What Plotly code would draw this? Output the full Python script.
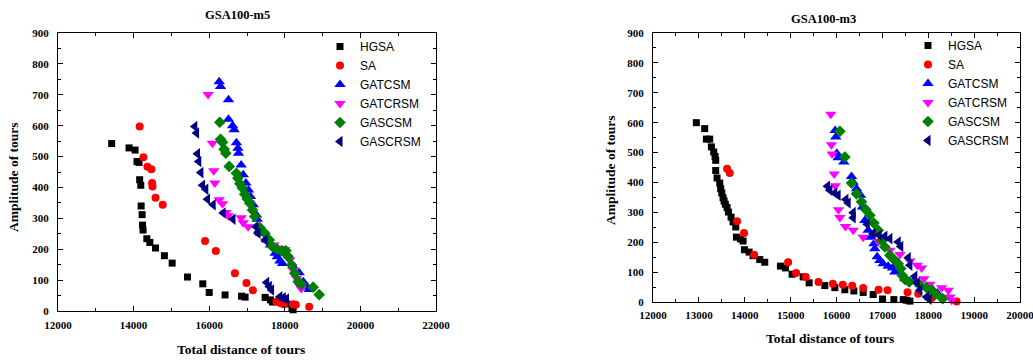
import plotly.graph_objects as go

# ---------------- Data: GSA100-m5 (left) ----------------
m5_hgsa_x = [13420, 13880, 14040, 14090, 14145, 14160, 14190, 14200, 14225, 14235, 14250, 14350, 14430, 14580,
             14815, 15020, 15425, 15830, 16000, 16420, 16855, 16950, 17480, 17620, 17675, 18045, 18190, 18220]
m5_hgsa_y = [542, 528, 521, 484, 481, 425, 407, 340, 312, 278, 262, 234, 222, 204,
             179, 155, 110, 88, 60, 52, 48, 45, 44, 36, 29, 23, 9, 4]

m5_sa_x = [14160, 14260, 14365, 14470, 14490, 14500, 14580, 14770, 15890, 16175, 16680, 16985, 17155,
           17780, 17895, 17975, 18215, 18290, 18645]
m5_sa_y = [597, 498, 467, 459, 414, 403, 367, 344, 227, 194, 122, 91, 67,
           30, 25, 22, 22, 20, 14]

m5_gatcsm_x = [16265, 16300, 16510, 16510, 16620, 16660, 16720, 16760, 16775, 16845, 16900, 16970, 17040,
               17090, 17165, 17250, 17270, 17320, 17360, 17515, 17620, 17745, 17800, 17870, 17940, 18045,
               18220, 18380, 18490, 18590, 18645]
m5_gatcsm_y = [742, 727, 684, 621, 600, 587, 545, 527, 511, 473, 441, 414, 392,
               371, 344, 311, 297, 262, 252, 230, 214, 187, 176, 162, 154, 187,
               144, 124, 95, 77, 70]

m5_gatcrsm_x = [15970, 16085, 16120, 16150, 16265, 16350, 16440, 16500, 16845, 16900, 17030, 17710, 17870,
                18000, 18130, 18220, 18310, 18400, 18435]
m5_gatcrsm_y = [701, 543, 454, 414, 360, 347, 319, 308, 302, 286, 273, 214, 203,
                198, 165, 133, 106, 79, 73]

m5_gascsm_x = [16280, 16300, 16350, 16395, 16440, 16530, 16720, 16760, 16810, 16880, 16940, 17005, 17075,
               17145, 17205, 17340, 17470, 17590, 17675, 17795, 17915, 18030, 18090, 18180, 18265, 18355,
               18440, 18750, 18910]
m5_gascsm_y = [611, 556, 546, 524, 511, 468, 446, 430, 412, 398, 378, 363, 349,
               327, 306, 270, 252, 230, 208, 200, 195, 195, 176, 149, 122, 95,
               87, 77, 53]

m5_gascrsm_x = [15620, 15665, 15690, 15725, 15780, 15825, 15910, 15955, 16105, 16370, 16630, 17235, 17290,
                17480, 17520, 17590, 17650, 17870, 17960, 18045]
m5_gascrsm_y = [597, 576, 509, 484, 448, 407, 394, 362, 344, 317, 297, 273, 252,
                230, 92, 79, 68, 46, 43, 39]

# ---------------- Data: GSA100-m3 (right) ----------------
m3_hgsa_x = [12945, 13127, 13164, 13236, 13273, 13324, 13353, 13367, 13367, 13396, 13455, 13476, 13500,
             13527, 13549, 13578, 13615, 13644, 13702, 13745, 13804, 13818, 13905, 13964, 13993, 14095,
             14182, 14327, 14436, 14778, 14887, 15033, 15273, 15404, 15745, 15964, 16182, 16378, 16582,
             16800, 17004, 17251, 17455, 17527, 17600]
m3_hgsa_y = [600, 580, 545, 545, 519, 502, 487, 474, 440, 415, 398, 379, 365,
             349, 338, 327, 316, 301, 284, 268, 251, 217, 211, 204, 175, 167,
             155, 142, 133, 120, 114, 93, 84, 64, 55, 48, 41, 37, 32,
             25, 10, 8, 8, 6, 3]

m3_sa_x = [13615, 13673, 13833, 13985, 14204, 14945, 15120, 15331, 15607, 15920, 16138, 16342, 16582,
           16916, 17113, 17549, 17782, 18073, 18618]
m3_sa_y = [446, 432, 270, 231, 158, 133, 97, 84, 67, 61, 58, 54, 47,
           41, 39, 33, 28, 13, 2]

m3_gatcsm_x = [15971, 15985, 16007, 16036, 16160, 16327, 16364, 16436, 16524, 16567, 16618, 16691, 16742,
               16815, 16836, 16887, 16945, 17018, 17127, 17222, 17273, 17491, 17658, 17818, 17963, 18109,
               18196]
m3_gatcsm_y = [574, 552, 498, 483, 468, 420, 401, 379, 357, 318, 273, 240, 217,
               195, 178, 151, 139, 128, 120, 114, 100, 78, 67, 59, 50, 39,
               30]

m3_gatcrsm_x = [15876, 15890, 15905, 15949, 15971, 16044, 16073, 16196, 16364, 16582, 16909, 17164, 17382,
                17600, 17760, 17855, 17905, 18036, 18291, 18436, 18473, 18509]
m3_gatcrsm_y = [628, 526, 495, 428, 389, 309, 283, 253, 240, 217, 202, 173, 159,
                137, 123, 114, 78, 59, 48, 39, 17, 6]

m3_gascsm_x = [16073, 16182, 16327, 16436, 16545, 16640, 16727, 16815, 16909, 16982, 17055, 17164, 17273,
               17345, 17400, 17433, 17491, 17585, 17818, 17963, 18073, 18160, 18313]
m3_gascsm_y = [571, 485, 398, 362, 335, 309, 290, 264, 240, 206, 184, 156, 139,
               128, 112, 89, 76, 67, 56, 48, 39, 26, 11]

m3_gascrsm_x = [15804, 15855, 15964, 16036, 16204, 16255, 16364, 16364, 16669, 16800, 16931, 17055, 17164,
                17345, 17400, 17564, 17600, 17709, 17760, 17818, 17964, 18018]
m3_gascrsm_y = [387, 374, 365, 357, 343, 331, 299, 282, 260, 229, 223, 220, 212,
                201, 186, 148, 123, 86, 64, 39, 17, 9]

series_names = ["HGSA", "SA", "GATCSM", "GATCRSM", "GASCSM", "GASCRSM"]
colors = ["#000000", "#FF0000", "#0000FF", "#FF00FF", "#008000", "#000080"]
symbols = ["square", "circle", "triangle-up", "triangle-down", "diamond", "triangle-left"]
sizes = [7, 8, 10, 10, 9, 10]

left_data = [(m5_hgsa_x, m5_hgsa_y), (m5_sa_x, m5_sa_y), (m5_gatcsm_x, m5_gatcsm_y),
             (m5_gatcrsm_x, m5_gatcrsm_y), (m5_gascsm_x, m5_gascsm_y), (m5_gascrsm_x, m5_gascrsm_y)]
right_data = [(m3_hgsa_x, m3_hgsa_y), (m3_sa_x, m3_sa_y), (m3_gatcsm_x, m3_gatcsm_y),
              (m3_gatcrsm_x, m3_gatcrsm_y), (m3_gascsm_x, m3_gascsm_y), (m3_gascrsm_x, m3_gascrsm_y)]

fig = go.Figure()
for i, (xs, ys) in enumerate(left_data):
    fig.add_trace(go.Scatter(x=xs, y=ys, mode="markers", name=series_names[i],
                             marker=dict(symbol=symbols[i], color=colors[i], size=sizes[i], line=dict(width=0)),
                             xaxis="x", yaxis="y", legend="legend", cliponaxis=False))
for i, (xs, ys) in enumerate(right_data):
    fig.add_trace(go.Scatter(x=xs, y=ys, mode="markers", name=series_names[i],
                             marker=dict(symbol=symbols[i], color=colors[i], size=sizes[i], line=dict(width=0)),
                             xaxis="x2", yaxis="y2", legend="legend2", cliponaxis=False))

W, H = 1033, 360
tickfont = dict(family="Liberation Serif", size=11, color="black", weight="bold")
titlefont = dict(family="Liberation Serif", size=13.5, color="black", weight="bold")
headfont = dict(family="Liberation Serif", size=12.5, color="black", weight="bold")

def ax(domain, rng, dtick, minor_dtick, anchor, standoff):
    return dict(domain=domain, range=rng, dtick=dtick, tick0=rng[0], tickformat="d",
                showgrid=False, zeroline=False, automargin=False, ticklabeloverflow="allow",
                ticklabelstandoff=standoff,
                showline=True, linecolor="black", linewidth=1, mirror="allticks",
                ticks="inside", ticklen=5, tickwidth=1, tickcolor="black", tickfont=tickfont,
                minor=dict(ticks="inside", ticklen=3, dtick=minor_dtick, tickcolor="black", showgrid=False),
                anchor=anchor, fixedrange=True)

fig.update_layout(
    width=W, height=H, margin=dict(l=0, r=0, t=0, b=0, pad=0),
    paper_bgcolor="white", plot_bgcolor="white",
    showlegend=True,
    xaxis=ax([58 / W, 436 / W], [12000, 22000], 2000, 1000, "y", 4),
    yaxis=ax([1 - 311 / H, 1 - 33 / H], [0, 900], 100, 50, "x", 6),
    xaxis2=ax([653 / W, 1020 / W], [12000, 20000], 1000, 500, "y2", 3),
    yaxis2=ax([1 - 302 / H, 1 - 33 / H], [0, 900], 100, 50, "x2", 6),
    legend=dict(x=320 / W, y=1 - 32 / H, xanchor="left", yanchor="top", bgcolor="rgba(0,0,0,0)",
                font=dict(family="Liberation Sans", size=12, color="black"), tracegroupgap=0),
    legend2=dict(x=908 / W, y=1 - 31 / H, xanchor="left", yanchor="top", bgcolor="rgba(0,0,0,0)",
                 font=dict(family="Liberation Sans", size=12, color="black"), tracegroupgap=0),
)

annots = [
    dict(text="GSA100-m5", x=237 / W, y=1 - 15 / H, font=headfont),
    dict(text="GSA100-m3", x=823 / W, y=1 - 19 / H, font=headfont),
    dict(text="Total distance of tours", x=241 / W, y=1 - 349 / H, font=titlefont),
    dict(text="Total distance of tours", x=830 / W, y=1 - 338 / H, font=titlefont),
    dict(text="Amplitude of tours", x=13 / W, y=1 - 177 / H, textangle=-90, font=titlefont),
    dict(text="Amplitude of tours", x=610 / W, y=1 - 170 / H, textangle=-90, font=titlefont),
]
for a in annots:
    fig.add_annotation(xref="paper", yref="paper", showarrow=False, xanchor="center", yanchor="middle", **a)

fig.write_html("out.html", config={"displayModeBar": False},
               post_script="document.body.style.margin='0';document.body.style.overflow='hidden';")
